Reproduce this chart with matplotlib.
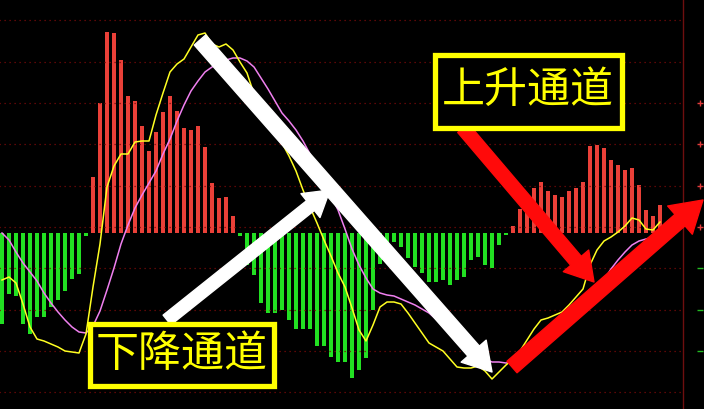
import matplotlib
matplotlib.use("Agg")
import matplotlib.pyplot as plt
from matplotlib.patches import FancyArrowPatch, Rectangle, ArrowStyle

plt.rcParams['font.family'] = ['Noto Sans CJK SC', 'DejaVu Sans']

# MACD histogram (one value per bar)
macd = [-0.91, -0.61, -0.63, -0.91, -1.01, -0.84, -0.84, -0.74, -0.67, -0.58,
        -0.46, -0.41, -0.03, 0.56, 1.30, 2.01, 2.00, 1.73, 1.37, 1.32,
        1.07, 0.82, 1.01, 1.21, 1.37, 1.22, 1.05, 1.03, 1.07, 0.86,
        0.50, 0.35, 0.36, 0.17, -0.03, -0.32, -0.42, -0.70, -0.80, -0.80,
        -0.77, -0.87, -0.96, -0.96, -0.96, -1.13, -1.13, -1.24, -1.29, -1.29,
        -1.45, -1.37, -1.25, -0.77, -0.31, -0.09, -0.09, -0.14, -0.25, -0.34,
        -0.40, -0.49, -0.49, -0.47, -0.52, -0.47, -0.44, -0.27, -0.24, -0.32,
        -0.35, -0.12, -0.02, 0.07, 0.24, 0.21, 0.45, 0.51, 0.42, 0.38,
        0.36, 0.42, 0.45, 0.51, 0.87, 0.88, 0.85, 0.73, 0.68, 0.63,
        0.65, 0.48, 0.23, 0.17, 0.28]

# DIF (yellow)
dif = [-0.47, -0.44, -0.50, -0.71, -0.94, -1.06, -1.08, -1.11, -1.14, -1.18,
       -1.19, -1.20, -1.01, -0.54, -0.11, 0.46, 0.67, 0.79, 0.79, 0.91,
       0.92, 0.92, 1.18, 1.40, 1.61, 1.69, 1.74, 1.86, 1.98, 2.00,
       1.89, 1.86, 1.89, 1.83, 1.71, 1.60, 1.39, 1.24, 1.10, 0.98,
       0.90, 0.77, 0.62, 0.43, 0.26, 0.10, -0.07, -0.23, -0.40, -0.54,
       -0.75, -0.97, -1.08, -0.92, -0.74, -0.69, -0.69, -0.71, -0.80, -0.90,
       -1.00, -1.10, -1.14, -1.18, -1.26, -1.34, -1.35, -1.35, -1.33, -1.38,
       -1.46, -1.39, -1.32, -1.26, -1.18, -1.07, -0.96, -0.87, -0.85, -0.82,
       -0.79, -0.72, -0.64, -0.56, -0.32, -0.17, -0.08, -0.04, 0.01, 0.07,
       0.15, 0.13, 0.04, 0.03, 0.11]

# DEA (violet)
dea = [0.00, -0.07, -0.19, -0.30, -0.39, -0.48, -0.60, -0.70, -0.79, -0.87,
       -0.94, -0.99, -1.00, -0.93, -0.78, -0.57, -0.35, -0.11, 0.08, 0.25,
       0.38, 0.50, 0.62, 0.79, 0.94, 1.12, 1.28, 1.42, 1.52, 1.61,
       1.66, 1.70, 1.73, 1.75, 1.75, 1.72, 1.66, 1.55, 1.44, 1.32,
       1.20, 1.12, 1.03, 0.92, 0.79, 0.63, 0.49, 0.37, 0.23, 0.04,
       -0.16, -0.32, -0.45, -0.56, -0.60, -0.62, -0.63, -0.66, -0.69, -0.72,
       -0.76, -0.80, -0.86, -0.91, -0.97, -1.05, -1.12, -1.18, -1.22, -1.26,
       -1.29, -1.29, -1.30, -1.29, -1.24, -1.20, -1.15, -1.10, -1.06, -1.00,
       -0.95, -0.89, -0.81, -0.72, -0.65, -0.56, -0.47, -0.36, -0.27, -0.19,
       -0.12, -0.08, -0.06, -0.04]

grid_levels = [2.13, 1.71, 1.30, 0.89, 0.47, 0.06, -0.35, -0.77, -1.18, -1.59]
pos_ticks = [1.30, 0.89, 0.47, 0.06]
neg_ticks = [-0.35, -0.77, -1.18]

labels = ['下降通道', '上升通道']

W, H = 704, 409
fig = plt.figure(figsize=(W / 100, H / 100), dpi=100, facecolor='black')
ax = fig.add_axes([0, 0, 1, 1])
ax.set_facecolor('black')
ax.set_xlim(-2 / 7, 702 / 7)
ax.set_ylim(-1.76, 2.33)
ax.axis('off')

# grid + right border
ax.hlines(grid_levels, -1, 97.1, colors='#7a0a0a', linestyles=(0, (1, 3)), lw=0.9)
ax.axvline(97.3, color='#6e0f0f', lw=1.0)
ax.plot([99.7] * len(pos_ticks), pos_ticks, '+', color='#e03c3c', ms=5, mew=1)
ax.plot([99.7] * len(neg_ticks), neg_ticks, '_', color='#22bb22', ms=5, mew=1)

idx = list(range(len(macd)))
colors = ['#ea4038' if v > 0 else '#22e022' for v in macd]
ax.bar(idx, macd, width=0.43, color=colors, linewidth=0)

ax.plot(range(len(dea)), dea, color='#f080f0', lw=1.1)
ax.plot(range(len(dif)), dif, color='#ffff22', lw=1.1)


def px(x, y):
    return (x / W, 1 - y / H)


def arrow(p0, p1, color, tail, head_w, head_l):
    st = ArrowStyle.Simple(head_length=head_l, head_width=head_w, tail_width=tail)
    a = FancyArrowPatch(px(*p0), px(*p1), transform=ax.transAxes, arrowstyle=st,
                        mutation_scale=1, color=color, shrinkA=0, shrinkB=0, zorder=5)
    ax.add_patch(a)


arrow((167, 320), (330, 190), 'white', 9, 22, 18)
arrow((200, 40), (492, 372), 'white', 11, 24, 20)
arrow((463, 128), (594, 282), '#ff0a0a', 10, 24, 20)
arrow((512, 367), (703, 200), '#ff0a0a', 11, 27, 22)

# label boxes
boxes = [(89.5, 323.5, 184, 62), (434.5, 54.5, 187, 73)]
for (bx, by, bw, bh), txt in zip(boxes, labels):
    x0, y0 = px(bx, by + bh)
    r = Rectangle((x0, y0), bw / W, bh / H, transform=ax.transAxes,
                  facecolor='black', edgecolor='#ffff00', lw=3.8, zorder=6)
    ax.add_patch(r)
    cx, cy = px(bx + bw / 2, by + bh / 2)
    ax.text(cx, cy, txt, transform=ax.transAxes, ha='center', va='center',
            color='#ffff00', fontsize=31, zorder=7)

fig.savefig('out.png', dpi=100, facecolor='black')
